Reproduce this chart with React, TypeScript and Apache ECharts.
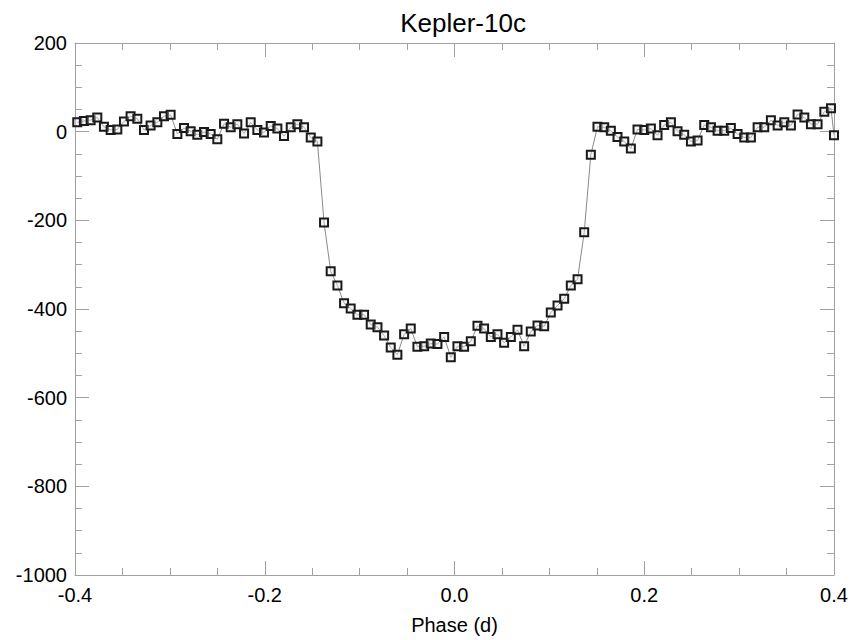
import React, { useEffect, useRef } from "react";
import * as echarts from "echarts";

const phases: number[] = [
  -0.3976, -0.3906, -0.3835, -0.3765, -0.3695, -0.3624, -0.3554, -0.3484, -0.3414, -0.3343,
  -0.3273, -0.3203, -0.3132, -0.3062, -0.2992, -0.2921, -0.2851, -0.2781, -0.2711, -0.264,
  -0.257, -0.25, -0.2429, -0.2359, -0.2289, -0.2218, -0.2148, -0.2078, -0.2008, -0.1937,
  -0.1867, -0.1797, -0.1726, -0.1656, -0.1586, -0.1515, -0.1445, -0.1375, -0.1305, -0.1234,
  -0.1164, -0.1094, -0.1023, -0.0953, -0.0883, -0.0812, -0.0742, -0.0672, -0.0602, -0.0531,
  -0.0461, -0.0391, -0.032, -0.025, -0.018, -0.0109, -0.0039, 0.0031, 0.0101, 0.0172,
  0.0242, 0.0312, 0.0383, 0.0453, 0.0523, 0.0594, 0.0664, 0.0734, 0.0804, 0.0875,
  0.0945, 0.1015, 0.1086, 0.1156, 0.1226, 0.1297, 0.1367, 0.1437, 0.1507, 0.1578,
  0.1648, 0.1718, 0.1789, 0.1859, 0.1929, 0.2, 0.207, 0.214, 0.221, 0.2281,
  0.2351, 0.2421, 0.2492, 0.2562, 0.2632, 0.2703, 0.2773, 0.2843, 0.2913, 0.2984,
  0.3054, 0.3124, 0.3195, 0.3265, 0.3335, 0.3406, 0.3476, 0.3546, 0.3616, 0.3687,
  0.3757, 0.3827, 0.3898, 0.3968, 0.4,
];

const flux: number[] = [
  21, 24, 26, 32, 11, 4, 5, 23, 35, 29,
  4, 14, 21, 35, 38, -5, 8, 1, -7, -1,
  -5, -17, 18, 10, 17, -4, 21, 4, -2, 13,
  7, -10, 10, 17, 10, -13, -22, -205, -315, -347,
  -387, -399, -413, -413, -435, -441, -460, -487, -503, -457,
  -444, -485, -484, -478, -479, -463, -509, -484, -485, -473,
  -438, -444, -463, -457, -476, -463, -447, -484, -451, -437,
  -439, -408, -392, -377, -347, -333, -227, -52, 11, 10,
  2, -12, -22, -38, 5, 4, 7, -8, 15, 21,
  1, -7, -22, -20, 15, 10, 2, 2, 8, -5,
  -13, -13, 10, 10, 26, 14, 21, 14, 39, 32,
  17, 17, 45, 53, -8,
];

const xTicks = [-0.4, -0.2, 0.0, 0.2, 0.4];
const yTicks = [200, 0, -200, -400, -600, -800, -1000];

const FONT = "'Liberation Sans', Arial, sans-serif";
const AX = "#a0a0a0";

export default function App() {
  const ref = useRef<HTMLDivElement>(null);
  useEffect(() => {
    if (!ref.current) return;
    const chart = echarts.init(ref.current, null, { renderer: "svg" });
    const data = phases.map((p, i) => [p, flux[i]]);
    const xCommon = {
      type: "value" as const,
      min: xTicks[0],
      max: xTicks[xTicks.length - 1],
      interval: 0.2,
      axisLine: { show: true, onZero: false, lineStyle: { color: AX, width: 1 } },
      axisTick: { show: true, inside: true, length: 14, lineStyle: { color: AX } },
      minorTick: { show: true, splitNumber: 4, length: 7, lineStyle: { color: AX } },
      splitLine: { show: false },
      minorSplitLine: { show: false },
    };
    const yCommon = {
      type: "value" as const,
      min: yTicks[yTicks.length - 1],
      max: yTicks[0],
      interval: 200,
      axisLine: { show: true, onZero: false, lineStyle: { color: AX, width: 1 } },
      axisTick: { show: true, inside: true, length: 14, lineStyle: { color: AX } },
      minorTick: { show: true, splitNumber: 4, length: 7, lineStyle: { color: AX } },
      splitLine: { show: false },
      minorSplitLine: { show: false },
    };
    chart.setOption({
      animation: false,
      backgroundColor: "#fff",
      title: {
        text: "Kepler-10c",
        left: 458,
        top: 5,
        textAlign: "center",
        textStyle: { fontFamily: FONT, fontSize: 26, fontWeight: "normal", color: "#000" },
      },
      grid: { left: 75, right: 19, top: 43, bottom: 57, containLabel: false },
      xAxis: [
        {
          ...xCommon,
          position: "bottom",
          name: "Phase (d)",
          nameLocation: "middle",
          nameGap: 40,
          nameTextStyle: { fontFamily: FONT, fontSize: 20, color: "#000" },
          axisLabel: {
            show: true,
            margin: 10,
            fontFamily: FONT,
            fontSize: 20,
            color: "#000",
            formatter: (v: number) => v.toFixed(1),
          },
        },
        { ...xCommon, position: "top", axisLabel: { show: false } },
      ],
      yAxis: [
        {
          ...yCommon,
          position: "left",
          axisLabel: {
            show: true,
            margin: 8,
            fontFamily: FONT,
            fontSize: 20,
            color: "#000",
            formatter: (v: number) => String(v),
          },
        },
        { ...yCommon, position: "right", axisLabel: { show: false } },
      ],
      series: [
        {
          type: "line",
          data,
          xAxisIndex: 0,
          yAxisIndex: 0,
          symbol: "rect",
          symbolSize: 8,
          showSymbol: true,
          showAllSymbol: true,
          silent: true,
          lineStyle: { color: "#8a8a8a", width: 1 },
          itemStyle: { color: "rgba(230,230,230,0.4)", borderColor: "#1a1a1a", borderWidth: 2 },
        },
      ],
    });
    return () => chart.dispose();
  }, []);
  return (
    <div
      ref={ref}
      style={{ position: "fixed", left: 0, top: 0, width: 853, height: 640 }}
    />
  );
}
